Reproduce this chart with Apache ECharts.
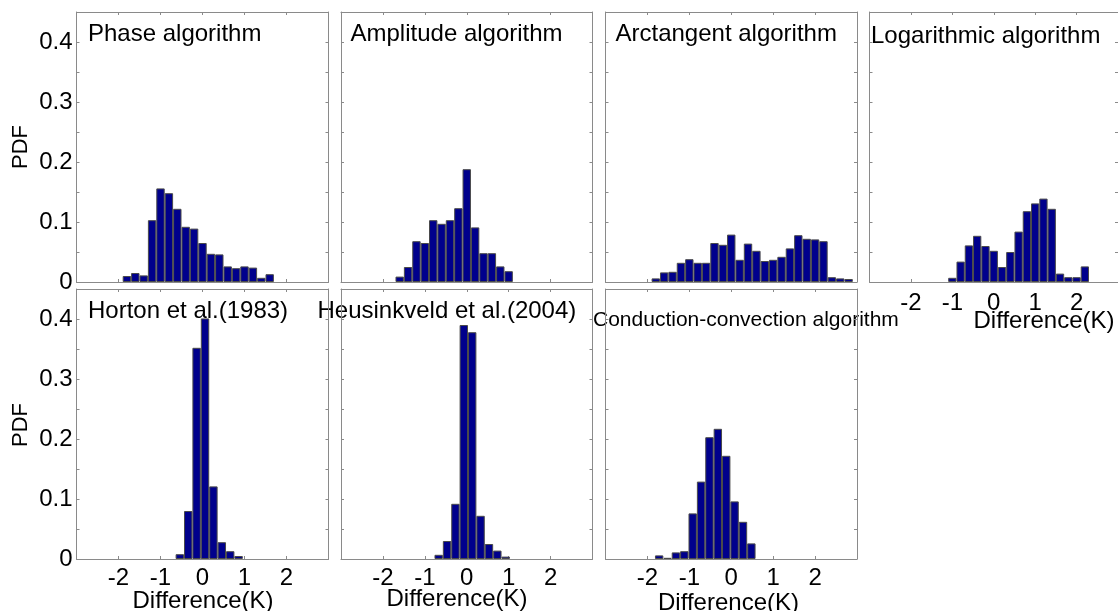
<!DOCTYPE html>
<html>
<head>
<meta charset="utf-8">
<style>
  html, body { margin: 0; padding: 0; background: #ffffff; }
  #chart { width: 1118px; height: 611px; }
</style>
<script src="https://cdn.jsdelivr.net/npm/echarts@6/dist/echarts.min.js"></script>
</head>
<body>
<div id="chart"></div>
<script>
// Histogram bin centres (K) and probability densities for each retrieval method
const phaseCenters = [-1.8, -1.6, -1.4, -1.2, -1.0, -0.8, -0.6, -0.4, -0.2, 0.0, 0.2, 0.4, 0.6, 0.8, 1.0, 1.2, 1.4, 1.6];
const phasePdf     = [0.010, 0.015, 0.011, 0.103, 0.156, 0.148, 0.122, 0.092, 0.089, 0.065, 0.047, 0.046, 0.026, 0.023, 0.026, 0.024, 0.007, 0.013];

const amplitudeCenters = [-1.6, -1.4, -1.2, -1.0, -0.8, -0.6, -0.4, -0.2, 0.0, 0.2, 0.4, 0.6, 0.8, 1.0];
const amplitudePdf     = [0.009, 0.025, 0.068, 0.065, 0.103, 0.097, 0.103, 0.123, 0.188, 0.091, 0.048, 0.048, 0.026, 0.018];

const arctanCenters = [-1.8, -1.6, -1.4, -1.2, -1.0, -0.8, -0.6, -0.4, -0.2, 0.0, 0.2, 0.4, 0.6, 0.8, 1.0, 1.2, 1.4, 1.6, 1.8, 2.0, 2.2, 2.4, 2.6, 2.8];
const arctanPdf     = [0.006, 0.016, 0.017, 0.032, 0.038, 0.032, 0.032, 0.065, 0.062, 0.079, 0.037, 0.064, 0.052, 0.035, 0.037, 0.042, 0.056, 0.078, 0.072, 0.071, 0.068, 0.008, 0.006, 0.005];

const logCenters = [-1.0, -0.8, -0.6, -0.4, -0.2, 0.0, 0.2, 0.4, 0.6, 0.8, 1.0, 1.2, 1.4, 1.6, 1.8, 2.0, 2.2];
const logPdf     = [0.007, 0.034, 0.061, 0.077, 0.060, 0.052, 0.025, 0.050, 0.084, 0.118, 0.131, 0.139, 0.122, 0.014, 0.008, 0.008, 0.026];

const hortonCenters = [-0.54, -0.34, -0.14, 0.06, 0.26, 0.46, 0.66, 0.86];
const hortonPdf     = [0.008, 0.080, 0.352, 0.401, 0.121, 0.028, 0.013, 0.005];

const heusCenters = [-0.67, -0.47, -0.27, -0.07, 0.13, 0.33, 0.53, 0.73, 0.93];
const heusPdf     = [0.007, 0.030, 0.092, 0.390, 0.378, 0.072, 0.025, 0.014, 0.004];

const condCenters = [-1.72, -1.52, -1.32, -1.12, -0.92, -0.72, -0.52, -0.32, -0.12, 0.08, 0.28, 0.48];
const condPdf     = [0.006, 0.002, 0.011, 0.013, 0.076, 0.129, 0.203, 0.217, 0.172, 0.096, 0.062, 0.026];

// Panel titles
const panelTitles = [
  'Phase algorithm', 'Amplitude algorithm', 'Arctangent algorithm', 'Logarithmic algorithm',
  'Horton et al.(1983)', 'Heusinkveld et al.(2004)', 'Conduction-convection algorithm'
];

// Axis ranges and tick labels
const xMin = -3, xMax = 3, xStep = 1;
const xTickLabels = ['-2', '-1', '0', '1', '2'];
const yMin = 0, yMax = 0.45, yStep = 0.05;
const yTickLabels = ['0', '0.1', '0.2', '0.3', '0.4'];
const yName = 'PDF';
const xName = 'Difference(K)';

const FONT = '"Liberation Sans", Arial, Helvetica, sans-serif';
const BOX = '#8a8a8a';
const BAR = '#00008c';
const EDGE = '#4a4a4a';

const panelData = [
  [phaseCenters, phasePdf],
  [amplitudeCenters, amplitudePdf],
  [arctanCenters, arctanPdf],
  [logCenters, logPdf],
  [hortonCenters, hortonPdf],
  [heusCenters, heusPdf],
  [condCenters, condPdf]
];

// Plot-box placement of each panel
const boxes = [
  { left: 76.5,  top: 12,  width: 252,   height: 270 },
  { left: 341,   top: 12,  width: 251.5, height: 270 },
  { left: 605.5, top: 12,  width: 251.5, height: 270 },
  { left: 869.5, top: 12,  width: 251,   height: 270 },
  { left: 76.5,  top: 289, width: 252,   height: 270 },
  { left: 341,   top: 289, width: 251.5, height: 270 },
  { left: 605.5, top: 289, width: 251.5, height: 270 }
];
// Which panels carry tick labels
const showXLabels = [false, false, false, true, true, true, true];
const xLabelMargin = [9, 9, 9, 9, 7, 7, 7];
const showYLabels = [true, false, false, false, true, false, false];

function fmtX(v) {
  const s = String(Math.round(v));
  return xTickLabels.indexOf(s) >= 0 ? s : '';
}
function fmtY(v) {
  const k = Math.round(v * 100);
  if (k % 10 !== 0) return '';
  const s = String(k / 100);
  return yTickLabels.indexOf(s) >= 0 ? s : '';
}

const grid = [], xAxis = [], yAxis = [], series = [];
boxes.forEach((b, i) => {
  grid.push({ left: b.left, top: b.top, width: b.width, height: b.height, containLabel: false });
  const lineStyle = { color: BOX, width: 1 };
  const tick = { show: true, inside: true, length: 3, lineStyle: { color: BOX, width: 1 } };
  ['bottom', 'top'].forEach(pos => {
    xAxis.push({
      type: 'value', gridIndex: i, position: pos, min: xMin, max: xMax, interval: xStep,
      axisLine: { show: true, onZero: false, lineStyle },
      axisTick: tick,
      splitLine: { show: false },
      axisLabel: {
        show: pos === 'bottom' && showXLabels[i],
        formatter: fmtX, color: '#000', fontSize: 24, fontFamily: FONT,
        margin: xLabelMargin[i], showMinLabel: false, showMaxLabel: false
      }
    });
  });
  ['left', 'right'].forEach(pos => {
    yAxis.push({
      type: 'value', gridIndex: i, position: pos, min: yMin, max: yMax, interval: yStep,
      axisLine: { show: true, onZero: false, lineStyle },
      axisTick: tick,
      splitLine: { show: false },
      axisLabel: {
        show: pos === 'left' && showYLabels[i],
        formatter: fmtY, color: '#000', fontSize: 24, fontFamily: FONT, margin: 4
      }
    });
  });
  const [centers, pdf] = panelData[i];
  series.push({
    type: 'bar',
    name: panelTitles[i],
    xAxisIndex: 2 * i,
    yAxisIndex: 2 * i,
    data: centers.map((c, j) => [c, pdf[j]]),
    barWidth: '100%',
    itemStyle: { color: BAR, borderColor: EDGE, borderWidth: 1 },
    emphasis: { disabled: true },
    animation: false
  });
});

// Titles, axis names
const textStyle = (size) => ({ fill: '#000', fontSize: size, fontFamily: FONT });
const titlePos = [
  [88, 34.5, 24], [350.5, 34.5, 24], [615.5, 34.5, 24], [871, 36.5, 24],
  [88, 311, 24], [317.5, 311, 24], [593, 320.5, 21]
];
const graphic = [];
panelTitles.forEach((t, i) => {
  const [x, y, s] = titlePos[i];
  graphic.push({ type: 'text', x, y, silent: true,
    style: Object.assign({ text: t, textAlign: 'left', textVerticalAlign: 'middle' }, textStyle(s)) });
});
[[1044, 321], [203, 601], [457, 599], [728.5, 603.5]].forEach(([x, y]) => {
  graphic.push({ type: 'text', x, y, silent: true,
    style: Object.assign({ text: xName, textAlign: 'center', textVerticalAlign: 'middle' }, textStyle(24)) });
});
[[20.5, 147], [20.5, 425]].forEach(([x, y]) => {
  graphic.push({ type: 'text', x, y, rotation: Math.PI / 2, silent: true,
    style: Object.assign({ text: yName, textAlign: 'center', textVerticalAlign: 'middle' }, textStyle(22)) });
});

const chart = echarts.init(document.getElementById('chart'), null, { renderer: 'canvas' });
chart.setOption({
  animation: false,
  backgroundColor: '#ffffff',
  grid, xAxis, yAxis, series, graphic,
  tooltip: { show: false }
});
</script>
</body>
</html>
